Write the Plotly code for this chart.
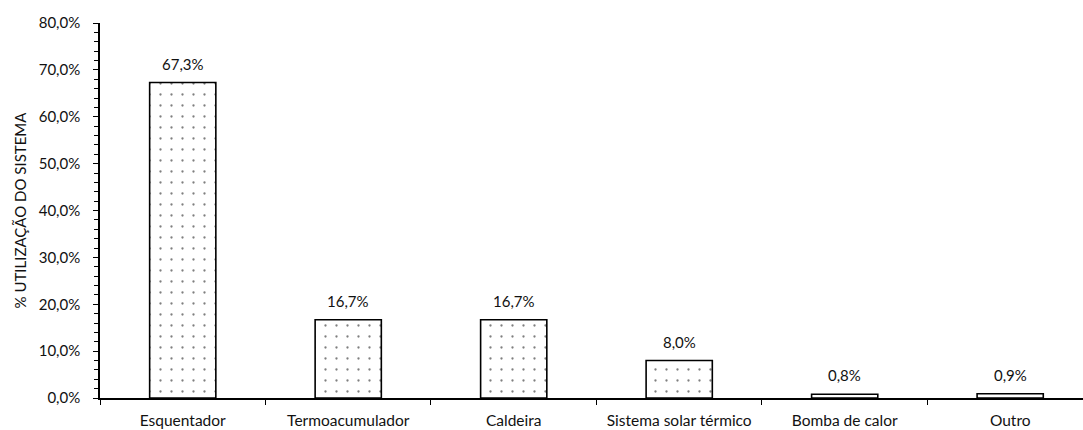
import plotly.graph_objects as go

# Water heating systems and their share of use
categories = ["Esquentador", "Termoacumulador", "Caldeira",
              "Sistema solar térmico", "Bomba de calor", "Outro"]
shares = [0.673, 0.167, 0.167, 0.080, 0.008, 0.009]
value_labels = ["67,3%", "16,7%", "16,7%", "8,0%", "0,8%", "0,9%"]

font_family = "Lato, Carlito, Calibri, 'Open Sans', sans-serif"
text_color = "#111111"

fig = go.Figure(
    go.Bar(
        x=categories,
        y=shares,
        width=0.4,
        marker=dict(
            color="white",
            line=dict(color="black", width=1.6),
            pattern=dict(shape=".", fgcolor="black", bgcolor="white",
                         size=11, solidity=0.035),
        ),
        hoverinfo="skip",
    )
)

# value labels sitting just above each bar
for cat, val, lab in zip(categories, shares, value_labels):
    fig.add_annotation(
        x=cat, y=val, text=lab, showarrow=False,
        xanchor="center", yanchor="bottom", yshift=8,
        font=dict(size=15, family=font_family, color=text_color),
    )

fig.update_layout(
    width=1083,
    height=430,
    margin=dict(l=100, r=0, t=23, b=32),
    paper_bgcolor="white",
    plot_bgcolor="white",
    separators=",.",
    showlegend=False,
    font=dict(family=font_family, size=15, color=text_color),
)

fig.update_xaxes(
    type="category",
    range=[-0.5, 5.44],
    showline=True,
    linecolor="black",
    linewidth=1.5,
    ticks="outside",
    tickson="boundaries",
    ticklen=5,
    tickcolor="black",
    showgrid=False,
    ticklabelstandoff=8,
    tickfont=dict(size=15.5, family=font_family, color=text_color),
)

fig.update_yaxes(
    range=[0, 0.8],
    dtick=0.1,
    tickformat=".1%",
    showline=True,
    linecolor="black",
    linewidth=1.5,
    ticks="outside",
    ticklen=5,
    tickcolor="black",
    showgrid=False,
    zeroline=False,
    ticklabelstandoff=10,
    minor=dict(dtick=0.02, ticks="outside", ticklen=4, tickcolor="black", showgrid=False),
    tickfont=dict(size=15, family=font_family, color=text_color),
    title=dict(text="% UTILIZAÇÃO DO SISTEMA", standoff=8,
               font=dict(size=15, family=font_family, color=text_color)),
)

fig.write_html("out.html")
